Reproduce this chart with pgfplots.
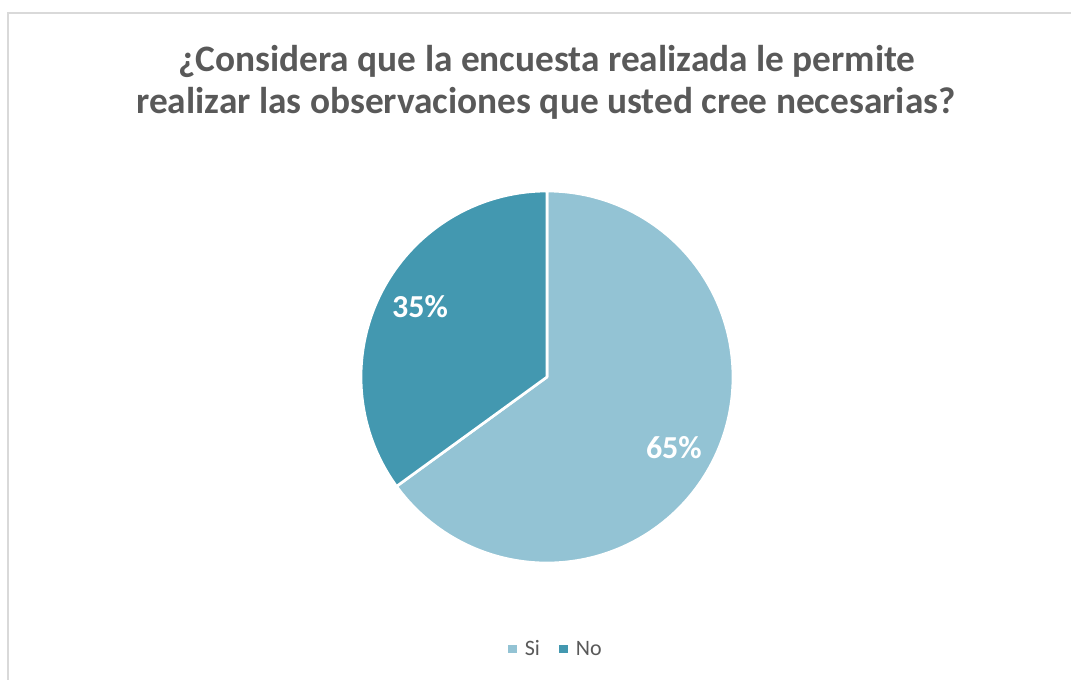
\documentclass[border=0pt]{standalone}
\usepackage{pgfplots}
\usepackage{pgfplotstable}
\pgfplotsset{compat=1.18}
\usepackage{fontspec}
\setmainfont{Carlito}
\definecolor{siC}{HTML}{93C3D4}
\definecolor{noC}{HTML}{4398B0}
\definecolor{txtC}{HTML}{595959}
\definecolor{brdC}{HTML}{D9D9D9}

\pgfplotstableread{
label value
Si 65
No 35
}\piedata
\pgfplotstablegetelem{0}{value}\of\piedata \let\vSi\pgfplotsretval
\pgfplotstablegetelem{1}{value}\of\piedata \let\vNo\pgfplotsretval
\pgfmathsetmacro\aA{90}
\pgfmathsetmacro\aB{90-3.6*\vSi}
\pgfmathsetmacro\aC{\aB-3.6*\vNo}
\pgfmathsetmacro\mSi{(\aA+\aB)/2-2}
\pgfmathsetmacro\mNo{(\aB+\aC)/2-2}

\begin{document}
\begin{tikzpicture}[x=0.75pt,y=-0.75pt]
\path[use as bounding box] (0,0) rectangle (1071,679);
\draw[brdC, line width=1.5pt] (8,680) -- (8,13) -- (1072,13);
\node[anchor=base, font=\fontsize{28}{33}\selectfont\bfseries, text=txtC] at (547,71) {¿Considera que la encuesta realizada le permite};
\node[anchor=base, font=\fontsize{28}{33}\selectfont\bfseries, text=txtC] at (546,113) {realizar las observaciones que usted cree necesarias?};
\coordinate (C) at (547,377);
\begin{axis}[
  at={(C)}, anchor=center,
  width=279pt, height=279pt, scale only axis,
  xmin=-1, xmax=1, ymin=-1, ymax=1,
  hide axis, clip=false,
  legend style={at={(0.527,-0.231)}, anchor=center, draw=none, fill=none,
    font=\fontsize{16.5}{19}\selectfont, text=txtC, legend columns=2,
    /tikz/every odd column/.append style={column sep=3pt},
    /tikz/every even column/.append style={column sep=11.5pt},
    nodes={inner sep=0pt, inner xsep=3pt},
    inner sep=0pt},
  legend image code/.code={\fill[#1, draw=none] (0pt,-3.2pt) rectangle (6.4pt,3.2pt);},
]
\addplot[fill=siC, draw=white, line width=2pt, domain=\aA:\aB, samples=160, line join=round]
  ({cos(x)},{sin(x)}) -- (axis cs:0,0) -- cycle;
\addlegendentry{Si}
\addplot[fill=noC, draw=white, line width=2pt, domain=\aB:\aC, samples=100, line join=round]
  ({cos(x)},{sin(x)}) -- (axis cs:0,0) -- cycle;
\addlegendentry{No}
\node[text=white, font=\fontsize{24}{28}\selectfont\bfseries] at (axis cs:{0.78*cos(\mSi)},{0.78*sin(\mSi)}) {65\%};
\node[text=white, font=\fontsize{24}{28}\selectfont\bfseries] at (axis cs:{0.78*cos(\mNo)},{0.78*sin(\mNo)}) {35\%};
\end{axis}
\end{tikzpicture}
\end{document}
